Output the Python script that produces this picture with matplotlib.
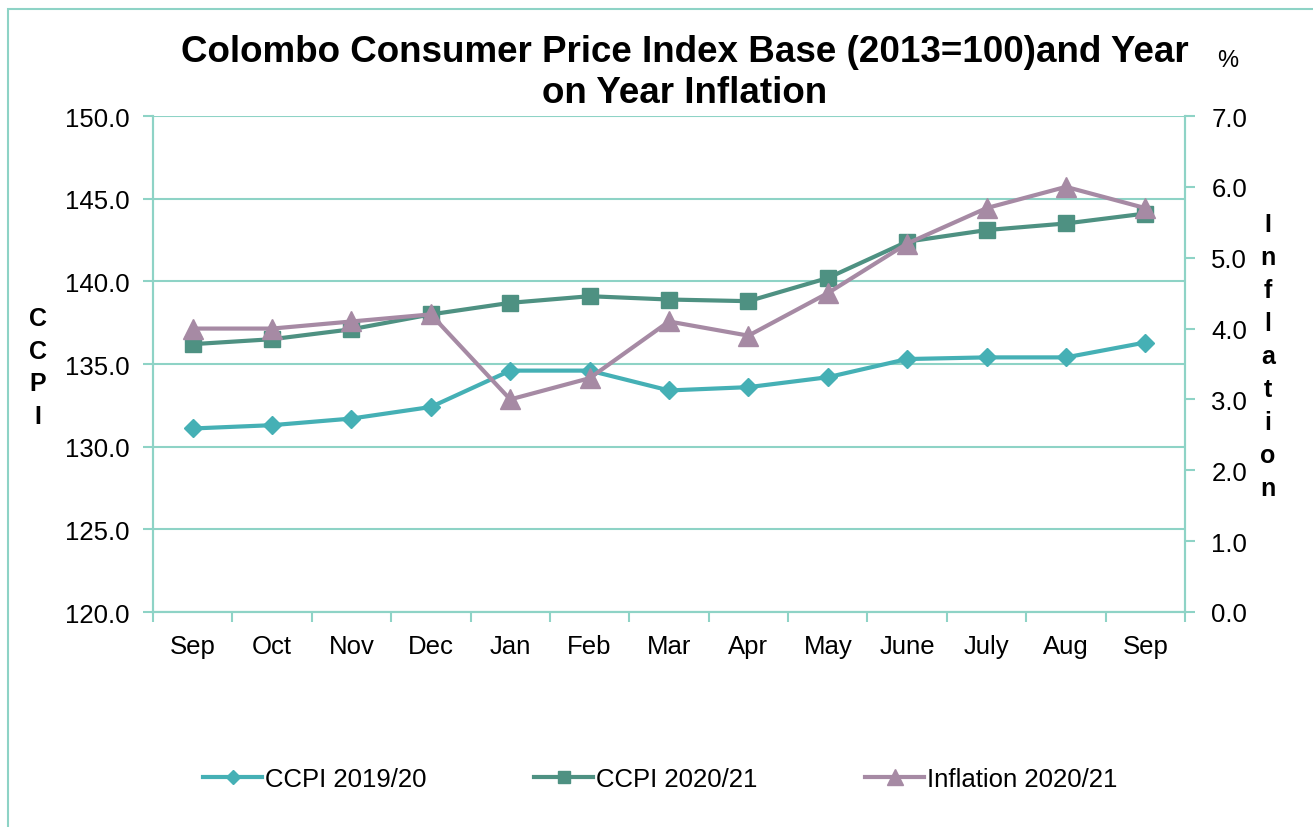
import matplotlib
matplotlib.use("Agg")
import matplotlib.pyplot as plt
from matplotlib.patches import Rectangle

plt.rcParams["font.family"] = ["Liberation Sans", "DejaVu Sans"]

months = ["Sep", "Oct", "Nov", "Dec", "Jan", "Feb", "Mar", "Apr", "May",
          "June", "July", "Aug", "Sep"]
ccpi_1920 = [131.1, 131.3, 131.7, 132.4, 134.6, 134.6, 133.4, 133.6, 134.2,
             135.3, 135.4, 135.4, 136.3]
ccpi_2021 = [136.2, 136.5, 137.1, 138.0, 138.7, 139.1, 138.9, 138.8, 140.2,
             142.4, 143.1, 143.5, 144.1]
inflation_2021 = [4.0, 4.0, 4.1, 4.2, 3.0, 3.3, 4.1, 3.9, 4.5, 5.2, 5.7, 6.0, 5.7]

left_ticks = [120, 125, 130, 135, 140, 145, 150]
right_ticks = [0, 1, 2, 3, 4, 5, 6, 7]

c_1920 = "#45B0B5"
c_2021 = "#4E9182"
c_infl = "#A68AA4"
c_grid = "#8ED3C6"

W, H = 1313, 828
fig = plt.figure(figsize=(W / 100, H / 100), dpi=100)
# chart-area border, only top and left edges fall inside the image
fig.patches.append(Rectangle((8 / W, -0.1), 1.2, 1.1 - 10 / H,
                             transform=fig.transFigure, fill=False,
                             edgecolor=c_grid, lw=1.5))

ax = fig.add_axes([153 / W, 1 - 613 / H, (1185 - 153) / W, (613 - 117) / H])
ax2 = ax.twinx()
x = list(range(len(months)))

l1, = ax.plot(x, ccpi_1920, color=c_1920, lw=3, marker="D", ms=9,
              label="CCPI 2019/20")
l2, = ax.plot(x, ccpi_2021, color=c_2021, lw=3, marker="s", ms=11,
              label="CCPI 2020/21")
l3, = ax2.plot(x, inflation_2021, color=c_infl, lw=3, marker="^", ms=15,
               label="Inflation 2020/21")

ax.set_xlim(-0.5, len(months) - 0.5)
ax.set_ylim(120, 150)
ax2.set_ylim(0, 7)
ax.set_yticks(left_ticks)
ax.set_yticklabels([f"{v:.1f}" for v in left_ticks])
ax2.set_yticks(right_ticks)
ax2.set_yticklabels([f"{v:.1f}" for v in right_ticks])

# category boundaries get the tick marks, labels sit in the middle
ax.set_xticks([i - 0.5 for i in range(len(months) + 1)])
ax.set_xticklabels([])
ax.set_xticks(x, minor=True)
ax.set_xticklabels(months, minor=True)
ax.tick_params(axis="x", which="major", length=7, color=c_grid, width=1.5)
ax.tick_params(axis="x", which="minor", length=0, pad=16, labelsize=18.5)
ax.tick_params(axis="y", length=7, color=c_grid, width=1.5, pad=10,
               labelsize=18.5)
ax2.tick_params(axis="y", length=7, color=c_grid, width=1.5, pad=12,
                labelsize=18.5)

ax.grid(axis="y", color=c_grid, lw=1.5)
ax.set_axisbelow(True)
for a in (ax, ax2):
    for s in a.spines.values():
        s.set_color(c_grid)
        s.set_linewidth(1.5)
    a.spines["top"].set_visible(False)

fig.text(685 / W, 1 - 73 / H,
         "Colombo Consumer Price Index Base (2013=100)and Year\non Year Inflation",
         ha="center", va="center", fontsize=26.5, fontweight="bold",
         linespacing=1.2)
fig.text(1228 / W, 1 - 61 / H, "%", ha="center", va="center", fontsize=17)
fig.text(38 / W, 1 - 368 / H, "\n".join("CCPI"), ha="center", va="center",
         fontsize=18, fontweight="bold", linespacing=1.45)
fig.text(1268 / W, 1 - 357 / H, "\n".join("Inflation"), ha="center",
         va="center", fontsize=18, fontweight="bold", linespacing=1.48)

fig.legend(handles=[l1, l2, l3], loc="center", bbox_to_anchor=(660 / W, 1 - 780 / H),
           ncol=3, frameon=False, fontsize=18.5, handlelength=2.3,
           handletextpad=0.1, columnspacing=4.2, markerscale=0.8)

fig.savefig("out.png", dpi=100)
